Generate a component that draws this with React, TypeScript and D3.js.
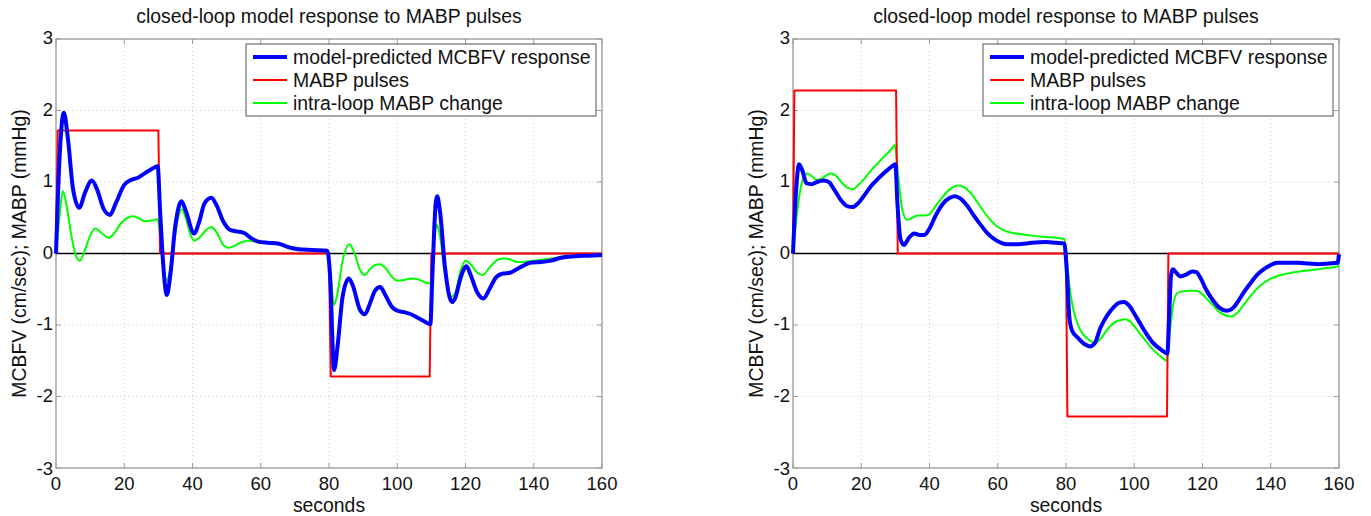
import React from "react";
import * as d3 from "d3";

type Pt = [number, number];

const xTicks = [0, 20, 40, 60, 80, 100, 120, 140, 160];
const yTicks = [-3, -2, -1, 0, 1, 2, 3];
const titleText = "closed-loop model response to MABP pulses";
const xLabel = "seconds";
const yLabel = "MCBFV (cm/sec); MABP (mmHg)";
const legendLabels = ["model-predicted MCBFV response", "MABP pulses", "intra-loop MABP change"];

// Left panel
const leftBlue: Pt[] = [[0,0],[1,1.3],[2.3,1.97],[3.5,1.6],[5,0.9],[6.8,0.64],[8.5,0.85],[10.5,1.02],[12,0.9],[14,0.62],[15.8,0.54],[17.5,0.7],[20,0.96],[22,1.03],[24,1.06],[26,1.12],[28,1.18],[29.8,1.22],[30.5,0.6],[31.2,0],[32.5,-0.58],[33.5,-0.3],[35,0.4],[36.8,0.73],[38,0.6],[40.5,0.28],[42,0.45],[43.5,0.7],[45.5,0.78],[47,0.68],[49,0.45],[51,0.33],[53,0.31],[55,0.29],[57,0.22],[59,0.17],[62,0.15],[65,0.14],[68,0.09],[71,0.06],[75,0.05],[79.5,0.04],[80.3,-0.3],[81.5,-1.63],[82.5,-1.3],[84,-0.6],[85.8,-0.35],[87,-0.45],[89,-0.78],[90.5,-0.85],[92,-0.7],[93.5,-0.52],[95,-0.47],[96.5,-0.58],[98.5,-0.75],[100,-0.8],[102,-0.82],[104,-0.85],[106,-0.9],[108,-0.95],[109.7,-0.99],[110.3,-0.3],[111.3,0.72],[111.7,0.8],[112.5,0.6],[114,-0.2],[116,-0.68],[117,-0.62],[118.5,-0.35],[120.3,-0.18],[121.5,-0.3],[123.5,-0.55],[125.2,-0.63],[127,-0.5],[129,-0.33],[131,-0.28],[133,-0.27],[135,-0.22],[137,-0.17],[139,-0.13],[142,-0.12],[145,-0.1],[148,-0.06],[152,-0.04],[156,-0.03],[160,-0.02]];
const leftRed: Pt[] = [[0,0],[0.5,1.72],[30,1.72],[30.5,0],[80,0],[80.5,-1.72],[109.5,-1.72],[110,0],[160,0]];
const leftGreen: Pt[] = [[0,0],[1,0.5],[2,0.87],[3,0.7],[4.5,0.25],[6,-0.05],[7,-0.1],[8.5,0.05],[10,0.25],[11.5,0.35],[13,0.3],[15.5,0.22],[17,0.28],[19,0.42],[21,0.5],[22.5,0.52],[24,0.5],[26,0.45],[28,0.46],[29.8,0.48],[30.5,0.25],[31.5,-0.2],[32.5,-0.38],[33.5,-0.2],[35,0.3],[36.8,0.62],[38,0.5],[39.5,0.25],[40.5,0.18],[42,0.22],[44,0.33],[45.5,0.37],[47,0.3],[49,0.12],[50.5,0.08],[52,0.1],[54,0.15],[56,0.18],[58,0.17],[61,0.15],[65,0.13],[68,0.1],[71,0.07],[75,0.05],[79.5,0.05],[80.3,-0.2],[81.5,-0.72],[82.5,-0.55],[84,-0.1],[86,0.13],[87.5,0.0],[89,-0.22],[90.5,-0.3],[92,-0.22],[93.5,-0.16],[95,-0.15],[96.5,-0.2],[98.5,-0.33],[100,-0.38],[102,-0.37],[104,-0.35],[106,-0.36],[108,-0.4],[109.7,-0.42],[110.3,-0.1],[111.3,0.35],[111.7,0.4],[112.5,0.25],[114,-0.3],[116,-0.6],[117,-0.55],[118.5,-0.25],[120,-0.1],[121.5,-0.15],[123.5,-0.27],[125,-0.3],[127,-0.2],[129,-0.1],[131,-0.07],[133,-0.08],[135,-0.12],[137,-0.12],[140,-0.1],[145,-0.07],[150,-0.04],[155,-0.03],[160,-0.02]];

// Right panel
const rightBlue: Pt[] = [[0,0],[0.8,0.8],[1.8,1.25],[2.8,1.15],[4,0.98],[5.5,0.97],[7,1.0],[9,1.02],[10.5,1.0],[12,0.9],[14,0.75],[16,0.66],[17.5,0.65],[19,0.7],[21,0.82],[23,0.95],[25,1.05],[27,1.14],[29,1.22],[30,1.25],[30.6,0.7],[31.5,0.2],[32.5,0.12],[34,0.22],[35.5,0.28],[37,0.26],[38.5,0.26],[40,0.35],[42,0.55],[44,0.7],[46,0.78],[47.5,0.8],[49,0.77],[51,0.67],[53,0.53],[55,0.4],[57,0.28],[59,0.2],[61,0.15],[63,0.13],[66,0.13],[70,0.15],[74,0.16],[77,0.15],[79.5,0.14],[80.3,-0.3],[81,-0.9],[81.8,-1.08],[83.5,-1.18],[85.5,-1.27],[87,-1.3],[88.5,-1.25],[90,-1.05],[92,-0.87],[94,-0.75],[95.5,-0.69],[97,-0.68],[98.5,-0.73],[100.5,-0.88],[103,-1.08],[105.5,-1.25],[108,-1.35],[109.7,-1.4],[110.3,-0.8],[110.8,-0.3],[111.3,-0.22],[112.5,-0.28],[113.5,-0.32],[115,-0.3],[117,-0.25],[118.2,-0.26],[119.5,-0.35],[121,-0.5],[123,-0.65],[125,-0.76],[127,-0.8],[128.5,-0.78],[130,-0.7],[132,-0.55],[134,-0.42],[136,-0.3],[138,-0.22],[140,-0.16],[142,-0.13],[145,-0.13],[148,-0.13],[151,-0.14],[154,-0.15],[157,-0.14],[159.6,-0.13],[160,-0.01]];
const rightRed: Pt[] = [[0,0],[0.4,2.28],[30.2,2.28],[30.7,0],[80,0],[80.4,-2.28],[109.6,-2.28],[110,0],[160,0]];
const rightGreen: Pt[] = [[0,0],[0.8,0.4],[2,0.85],[3,1.05],[4.2,1.12],[5.5,1.08],[7,1.03],[8.5,1.05],[10,1.1],[11.2,1.12],[12.5,1.09],[14.5,0.98],[16.5,0.91],[17.5,0.9],[19,0.95],[21,1.05],[23,1.17],[25,1.27],[27,1.37],[29,1.47],[29.8,1.52],[30.8,1.1],[32,0.62],[33.5,0.47],[35,0.5],[36.5,0.53],[38.5,0.53],[40,0.55],[42,0.68],[44,0.8],[46,0.9],[48.5,0.95],[50,0.93],[52,0.85],[54,0.72],[56,0.58],[58,0.46],[60,0.37],[62,0.32],[64,0.29],[67,0.27],[70,0.25],[74,0.23],[77,0.22],[79.5,0.2],[80.3,-0.1],[81,-0.45],[82,-0.75],[83.5,-1.0],[85,-1.13],[86.5,-1.2],[88.5,-1.25],[90,-1.2],[92,-1.07],[94,-0.97],[96,-0.93],[97.5,-0.92],[99,-0.96],[101,-1.08],[103,-1.2],[105,-1.32],[107.5,-1.43],[109.5,-1.5],[110.3,-1.15],[111.3,-0.75],[112.5,-0.56],[114,-0.53],[116,-0.52],[118,-0.52],[119.5,-0.55],[121,-0.62],[123,-0.72],[125,-0.82],[127,-0.87],[128.5,-0.88],[130,-0.84],[132,-0.72],[134,-0.6],[136,-0.49],[138,-0.41],[140,-0.35],[143,-0.3],[146,-0.27],[150,-0.24],[154,-0.22],[157,-0.2],[159.6,-0.18],[160,-0.05]];

const FONT = "Arial, 'Liberation Sans', Helvetica, sans-serif";

function Panel({ left, blue, red, green }: { left: number; blue: Pt[]; red: Pt[]; green: Pt[] }) {
  const top = 39;
  const width = 546;
  const height = 429;
  const x = d3.scaleLinear().domain([0, 160]).range([left, left + width]);
  const y = d3.scaleLinear().domain([-3, 3]).range([top + height, top]);
  const smooth = d3.line<Pt>().x(d => x(d[0])).y(d => y(d[1])).curve(d3.curveMonotoneX);
  const straight = d3.line<Pt>().x(d => x(d[0])).y(d => y(d[1]));
  const tickLen = 5;
  const frame = "#9a9a9a";
  const lgLeft = left + width - 6 - 350;
  const lgTop = top + 5;
  const rows = [lgTop + 13, lgTop + 36, lgTop + 59];
  const legendStyles = [
    { stroke: "#0000ff", w: 4 },
    { stroke: "#ff0000", w: 2 },
    { stroke: "#00ff00", w: 2 },
  ];
  const txt = 19.4;
  return (
    <g>
      <text x={left + width / 2} y={23} textAnchor="middle" fontFamily={FONT} fontSize={txt} fill="#111">{titleText}</text>
      {xTicks.map(t => (
        <line key={"gx" + t} x1={x(t)} x2={x(t)} y1={top} y2={top + height} stroke="#cfcfcf" strokeWidth={1} strokeDasharray="1,3" />
      ))}
      {yTicks.map(t => (
        <line key={"gy" + t} x1={left} x2={left + width} y1={y(t)} y2={y(t)} stroke="#cfcfcf" strokeWidth={1} strokeDasharray="1,3" />
      ))}
      <rect x={left} y={top} width={width} height={height} fill="none" stroke={frame} strokeWidth={1.3} />
      {xTicks.map(t => (
        <g key={"tx" + t}>
          <line x1={x(t)} x2={x(t)} y1={top + height} y2={top + height - tickLen} stroke={frame} />
          <line x1={x(t)} x2={x(t)} y1={top} y2={top + tickLen} stroke={frame} />
          <text x={x(t)} y={490} textAnchor="middle" fontFamily={FONT} fontSize={18.5} fill="#111">{t}</text>
        </g>
      ))}
      {yTicks.map(t => (
        <g key={"ty" + t}>
          <line x1={left} x2={left + tickLen} y1={y(t)} y2={y(t)} stroke={frame} />
          <line x1={left + width} x2={left + width - tickLen} y1={y(t)} y2={y(t)} stroke={frame} />
          <text x={left - 3} y={y(t) + (t === -3 ? 7 : 5)} textAnchor="end" fontFamily={FONT} fontSize={18.5} fill="#111">{t}</text>
        </g>
      ))}
      <text x={left + width / 2} y={512} textAnchor="middle" fontFamily={FONT} fontSize={txt} fill="#111">{xLabel}</text>
      <text transform={`translate(${left - 30},${top + height / 2}) rotate(-90)`} textAnchor="middle" fontFamily={FONT} fontSize={txt} fill="#111">{yLabel}</text>
      <line x1={x(0)} x2={x(160)} y1={y(0)} y2={y(0)} stroke="#000" strokeWidth={1.5} />
      <path d={smooth(green) || ""} fill="none" stroke="#00ff00" strokeWidth={2} strokeLinejoin="round" />
      <path d={straight(red) || ""} fill="none" stroke="#ff0000" strokeWidth={2} strokeLinejoin="round" />
      <path d={smooth(blue) || ""} fill="none" stroke="#0000ff" strokeWidth={4} strokeLinejoin="round" />
      <rect x={lgLeft} y={lgTop} width={350} height={72} fill="#fff" stroke="#555" strokeWidth={1} />
      {legendLabels.map((lab, i) => (
        <g key={lab}>
          <line x1={lgLeft + 7} x2={lgLeft + 41} y1={rows[i]} y2={rows[i]} stroke={legendStyles[i].stroke} strokeWidth={legendStyles[i].w} />
          <text x={lgLeft + 47} y={rows[i] + 7} fontFamily={FONT} fontSize={txt} fill="#111">{lab}</text>
        </g>
      ))}
    </g>
  );
}

export default function App() {
  return (
    <div style={{ position: "absolute", left: 0, top: 0 }}>
      <svg width={1371} height={516} style={{ display: "block", background: "#fff" }}>
        <Panel left={56} blue={leftBlue} red={leftRed} green={leftGreen} />
        <Panel left={793} blue={rightBlue} red={rightRed} green={rightGreen} />
      </svg>
    </div>
  );
}
